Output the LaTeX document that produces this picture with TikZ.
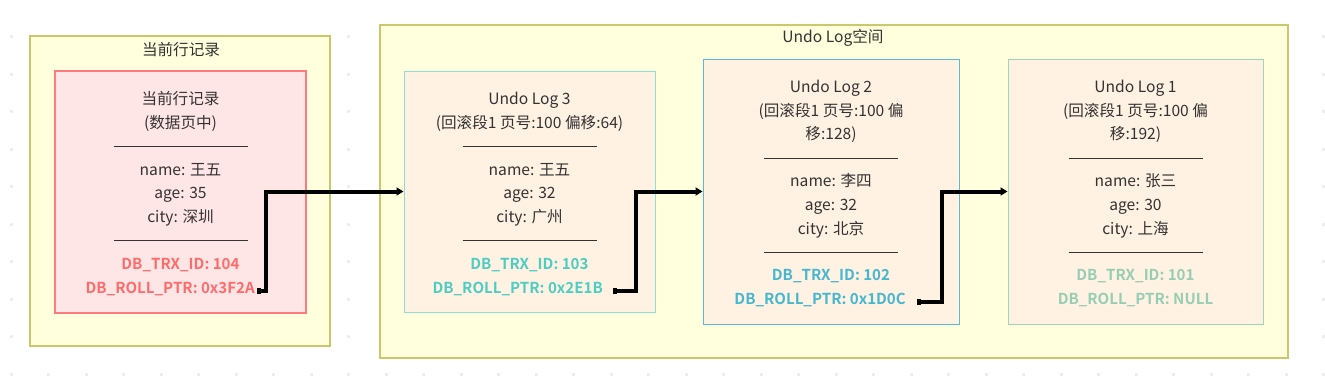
\documentclass[tikz,border=0pt]{standalone}
\usepackage{fontspec}
\setmainfont{Noto Sans CJK SC}[BoldFont={Noto Sans CJK SC Bold}]
\usepackage{tikz}
\usetikzlibrary{arrows.meta,calc}
\definecolor{groupfill}{HTML}{FFFFDD}
\definecolor{groupdraw}{HTML}{C9C96B}
\definecolor{curfill}{HTML}{FFE6E6}
\definecolor{curdraw}{HTML}{FF7B7B}
\definecolor{curtext}{HTML}{FF6B6B}
\definecolor{logfill}{HTML}{FFF2E2}
\definecolor{logthreedraw}{HTML}{8FDCD6}
\definecolor{logtwodraw}{HTML}{5BBAD6}
\definecolor{logonedraw}{HTML}{9FD5C0}
\definecolor{logthreetext}{HTML}{4ECDC4}
\definecolor{logtwotext}{HTML}{45B7D1}
\definecolor{logonetext}{HTML}{96CEB4}
\definecolor{bodytext}{HTML}{333333}
\definecolor{griddot}{HTML}{EEEEEE}
\newcommand{\sepline}{\rule[0.32em]{134pt}{0.8pt}}

\begin{document}
\begin{tikzpicture}[x=1pt,y=-1pt,
    txt/.style={inner sep=0pt, yshift=-4pt, text height=0.75em, text depth=0.25em, text=bodytext, font=\fontsize{15.6}{18}\selectfont},
    dbtxt/.style={txt, font=\fontsize{15.1}{18}\selectfont\bfseries},
    group/.style={draw=groupdraw, fill=groupfill, line width=1.2pt, inner sep=0pt},
    logbox/.style={fill=logfill, line width=1pt, inner sep=0pt},
    ptrarrow/.style={line width=4pt, {Square[length=4pt,width=6pt]}-{Triangle[length=7pt,width=8pt]}}]
    \useasboundingbox (0,0) rectangle (1325,388);

    % Canvas dots
    \foreach \i in {0,...,35}
        \foreach \j in {0,...,9}
            \fill[griddot] (9.5+37.5*\i,35+37.5*\j) rectangle ++(3,3);

    % Groups
    \node[group, minimum width=300pt, minimum height=310pt] (curgroup) at (180,191) {};
    \node[txt] (curtitle) at (181,49) {当前行记录};
    \node[group, minimum width=908pt, minimum height=333pt] (undogroup) at (834,191.5) {};
    \node[txt] (undotitle) at (833,36) {Undo Log空间};

    % Record boxes
    \node[fill=curfill, draw=curdraw, line width=2pt, inner sep=0pt, minimum width=251pt, minimum height=242pt] (cur) at (180.5,192) {};
    \node[logbox, draw=logthreedraw, minimum width=251pt, minimum height=241pt] (undo3) at (529.5,191.5) {};
    \node[logbox, draw=logtwodraw, minimum width=256pt, minimum height=265pt] (undo2) at (831,191.5) {};
    \node[logbox, draw=logonedraw, minimum width=255pt, minimum height=265pt] (undo1) at (1135.5,191.5) {};

    % Current record
    \foreach \line [count=\i from 0] in {当前行记录, {(数据页中)}, \sepline, name: 王五, age: 35, city: 深圳, \sepline}
        \node[txt] (cur-\i) at (180.5,98+23.6*\i) {\line};
    \node[dbtxt, text=curtext] (cur-id) at (180.5,263) {DB\_TRX\_ID: 104};
    \node[dbtxt, text=curtext, anchor=east] (cur-ptr) at (255,287) {DB\_ROLL\_PTR: 0x3F2A};

    % Undo Log 3
    \foreach \line [count=\i from 0] in {Undo Log 3, {(回滚段1 页号:100 偏移:64)}, \sepline, name: 王五, age: 32, city: 广州, \sepline}
        \node[txt] (undo3-\i) at (529.5,98+23.6*\i) {\line};
    \node[dbtxt, text=logthreetext] (undo3-id) at (529.5,263) {DB\_TRX\_ID: 103};
    \node[dbtxt, text=logthreetext, anchor=east] (undo3-ptr) at (603,287) {DB\_ROLL\_PTR: 0x2E1B};

    % Undo Log 2
    \foreach \line [count=\i from 0] in {Undo Log 2, {(回滚段1 页号:100 偏}, {移:128)}, \sepline, name: 李四, age: 32, city: 北京, \sepline}
        \node[txt] (undo2-\i) at (831,86+23.6*\i) {\line};
    \node[dbtxt, text=logtwotext] (undo2-id) at (831,274) {DB\_TRX\_ID: 102};
    \node[dbtxt, text=logtwotext, anchor=east] (undo2-ptr) at (906,298) {DB\_ROLL\_PTR: 0x1D0C};

    % Undo Log 1
    \foreach \line [count=\i from 0] in {Undo Log 1, {(回滚段1 页号:100 偏}, {移:192)}, \sepline, name: 张三, age: 30, city: 上海, \sepline}
        \node[txt] (undo1-\i) at (1135.5,86+23.6*\i) {\line};
    \node[dbtxt, text=logonetext] (undo1-id) at (1135.5,274) {DB\_TRX\_ID: 101};
    \node[dbtxt, text=logonetext] (undo1-ptr) at (1135.5,298) {DB\_ROLL\_PTR: NULL};

    % Roll pointers
    \draw[ptrarrow] ([xshift=2pt]cur-ptr.east) -- ++(9,0) |- (undo3.west);
    \draw[ptrarrow] ([xshift=10pt]undo3-ptr.east) -- ++(23,0) |- (undo2.west);
    \draw[ptrarrow] ([xshift=11pt]undo2-ptr.east) -- ++(25,0) |- (undo1.west);
\end{tikzpicture}
\end{document}
